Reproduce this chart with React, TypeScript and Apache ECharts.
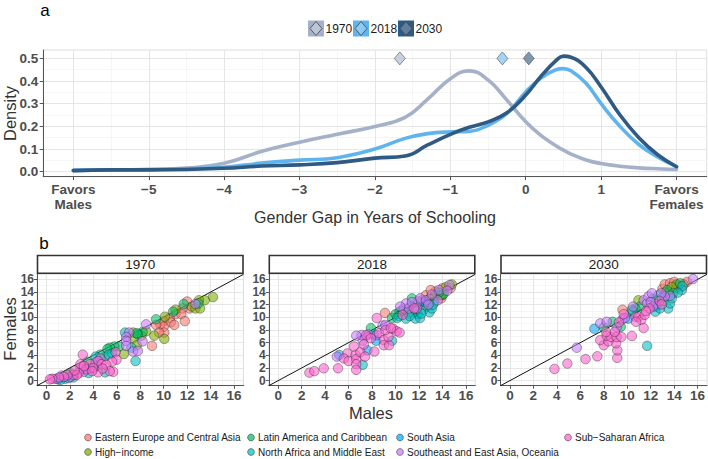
import React, { useEffect, useRef } from "react";
import * as echarts from "echarts";

// ---------- DATA ----------
const gapX = [-6, -5.5, -5, -4.5, -4, -3.5, -3, -2.5, -2, -1.6, -1.3, -1, -0.75, -0.5, -0.25, 0, 0.2, 0.4, 0.5, 0.6, 0.8, 1, 1.25, 1.5, 1.75, 2];
const dens1970 = [0.006, 0.008, 0.01, 0.016, 0.037, 0.09, 0.13, 0.165, 0.2, 0.24, 0.32, 0.41, 0.445, 0.405, 0.316, 0.22, 0.16, 0.115, 0.095, 0.078, 0.052, 0.036, 0.024, 0.017, 0.013, 0.01];
const dens2018 = [0.006, 0.008, 0.01, 0.013, 0.02, 0.038, 0.051, 0.062, 0.1, 0.147, 0.168, 0.176, 0.178, 0.205, 0.257, 0.352, 0.413, 0.45, 0.455, 0.445, 0.39, 0.3, 0.2, 0.12, 0.065, 0.022];
const dens2030 = [0.005, 0.008, 0.008, 0.01, 0.015, 0.025, 0.03, 0.04, 0.06, 0.069, 0.118, 0.165, 0.196, 0.22, 0.26, 0.338, 0.42, 0.49, 0.51, 0.505, 0.46, 0.374, 0.25, 0.15, 0.075, 0.022];
const years = ["1970", "2018", "2030"];
const meanGap = [-1.67, -0.31, 0.04];
const topXTicks = [-6, -5, -4, -3, -2, -1, 0, 1, 2];
const topYTicks = [0, 0.1, 0.2, 0.3, 0.4, 0.5];
const scatterTicks = [0, 2, 4, 6, 8, 10, 12, 14, 16];
const scatterLabelsA = [0, 4, 8, 12, 16];
const scatterLabelsB = [2, 6, 10, 14];
const regions = [
  "Eastern Europe and Central Asia",
  "High\u2212income",
  "Latin America and Caribbean",
  "North Africa and Middle East",
  "South Asia",
  "Southeast and East Asia, Oceania",
  "Sub\u2212Saharan Africa",
];
// [males, females, region index]
const pts1970 = [
  [14.2, 13.2, 1], [13.5, 12.7, 1], [13.0, 12.7, 1], [12.95, 12.2, 2], [12.0, 12.5, 0], [11.7, 12.1, 2], [12.4, 11.7, 1], [12.2, 11.4, 0], [11.6, 11.4, 0], [11.0, 11.2, 1],
  [11.0, 10.5, 0], [11.5, 10.5, 0], [11.8, 9.4, 0], [10.8, 10.9, 2], [12.7, 12.1, 5], [12.7, 11.4, 1], [13.1, 11.4, 1], [10.5, 9.9, 0], [10.1, 10.1, 1], [10.0, 9.4, 0],
  [10.6, 9.2, 0], [10.9, 8.8, 0], [9.7, 8.9, 0], [10.0, 8.5, 0], [9.35, 9.7, 2], [9.35, 8.8, 0], [10.05, 7.6, 0], [9.6, 7.6, 0], [10.05, 6.6, 1], [9.2, 7.1, 1],
  [9.0, 5.5, 0], [8.5, 8.9, 5], [8.2, 7.7, 2], [8.5, 7.8, 1], [8.1, 7.1, 1], [7.8, 7.3, 2], [7.7, 7.5, 2], [7.4, 7.6, 1], [6.7, 7.6, 3], [7.05, 7.6, 5],
  [6.8, 6.9, 5], [6.8, 6.3, 5], [7.4, 6.7, 1], [8.2, 6.2, 5], [7.7, 5.6, 1], [7.25, 5.2, 3], [6.8, 5.5, 5], [7.4, 4.6, 5], [7.8, 4.7, 5], [7.6, 3.1, 3],
  [6.6, 4.2, 1], [6.2, 5.4, 2], [5.8, 5.4, 2], [5.4, 5.2, 2], [5.2, 5.0, 2], [5.6, 4.3, 3], [5.9, 4.5, 6], [5.3, 4.1, 3], [5.98, 3.3, 6], [5.6, 3.0, 6],
  [5.0, 3.8, 2], [4.6, 4.1, 2], [4.2, 3.8, 3], [4.4, 3.1, 6], [4.2, 2.9, 5], [4.7, 2.6, 6], [5.1, 2.5, 6], [5.7, 1.4, 6], [5.4, 1.5, 6], [5.0, 1.3, 3],
  [4.4, 1.3, 6], [3.7, 2.6, 6], [3.5, 3.0, 2], [3.7, 1.9, 5], [3.1, 4.1, 6], [2.9, 2.6, 6], [3.4, 1.8, 6], [3.2, 1.4, 5], [3.6, 1.2, 3], [2.75, 1.2, 6],
  [2.3, 0.9, 6], [2.05, 1.2, 2], [1.8, 0.9, 6], [1.5, 0.6, 6], [1.07, 0.5, 6], [0.8, 0.3, 5], [0.5, 0.3, 6], [1.6, 0.3, 3], [2.05, 0.6, 5], [2.6, 0.9, 6],
  [1.2, 0.1, 3], [1.3, 0.8, 5], [2.4, 1.6, 6], [2.9, 1.9, 5], [3.2, 2.3, 6], [0.3, 0.2, 6], [1.9, 0.4, 4], [2.3, 0.5, 3], [1.0, 0.2, 4], [4.0, 2.0, 6],
  [4.8, 1.9, 6], [3.9, 1.5, 6], [4.6, 3.5, 5], [4.3, 2.3, 3],
];
const pts2018 = [
  [2.66, 1.26, 6], [3.08, 1.5, 6], [3.88, 1.95, 6], [5.1, 1.95, 6], [5.0, 3.8, 5], [5.2, 4.05, 4], [5.9, 4.3, 6], [5.6, 3.5, 6], [6.0, 3.1, 6], [6.6, 4.05, 6],
  [6.65, 3.4, 6], [6.65, 2.6, 6], [6.65, 1.7, 6], [7.2, 2.5, 3], [6.45, 5.4, 6], [7.0, 4.5, 6], [7.4, 3.8, 6], [7.6, 4.8, 4], [8.2, 4.6, 6], [7.3, 5.7, 6],
  [7.2, 6.3, 5], [7.1, 7.2, 5], [6.65, 7.1, 5], [7.5, 7.2, 6], [7.9, 8.3, 2], [7.7, 7.3, 5], [7.9, 6.7, 6], [8.15, 7.3, 3], [8.4, 7.2, 5], [8.35, 6.3, 4],
  [8.6, 7.5, 6], [9.0, 6.4, 6], [9.0, 5.6, 6], [9.45, 5.6, 6], [9.7, 6.3, 3], [9.4, 6.9, 6], [9.15, 8.0, 6], [9.8, 8.2, 6], [10.1, 7.8, 6], [10.35, 7.6, 6],
  [9.6, 8.3, 6], [8.9, 8.7, 5], [9.15, 8.8, 5], [8.4, 9.9, 6], [9.1, 10.7, 0], [9.7, 9.9, 2], [10.15, 9.9, 3], [10.0, 10.5, 2], [10.35, 10.9, 2], [10.7, 11.4, 5],
  [10.6, 10.4, 6], [10.9, 9.8, 3], [11.1, 10.6, 2], [11.3, 11.8, 2], [11.7, 10.9, 3], [11.7, 9.8, 3], [11.9, 10.5, 2], [11.15, 11.4, 5], [11.4, 13.0, 2], [11.9, 12.5, 5],
  [12.1, 13.0, 5], [12.3, 11.9, 0], [12.4, 11.2, 3], [12.7, 11.7, 1], [12.9, 10.8, 3], [13.1, 11.4, 3], [12.6, 12.7, 5], [13.0, 13.1, 0], [13.3, 12.4, 2], [13.4, 13.5, 1],
  [13.6, 12.7, 5], [13.9, 13.0, 0], [13.7, 14.3, 5], [14.0, 14.6, 0], [14.3, 14.8, 1], [14.6, 15.1, 5], [14.8, 15.2, 1], [14.1, 13.7, 2], [14.0, 13.5, 1], [14.4, 14.2, 5],
  [13.4, 14.1, 0], [13.1, 13.6, 5], [12.3, 12.7, 0], [11.6, 11.4, 6], [10.6, 11.1, 2], [12.1, 9.9, 3], [10.9, 12.2, 5], [10.4, 11.7, 5], [11.4, 12.4, 5], [14.7, 14.6, 0],
  [13.85, 13.5, 1], [12.6, 13.5, 0], [13.0, 14.3, 0], [12.0, 12.2, 2], [12.8, 12.0, 5], [13.2, 12.0, 3], [12.5, 12.4, 4], [11.2, 10.2, 3], [10.3, 10.2, 2], [13.7, 13.9, 2],
  [12.9, 12.9, 1], [11.8, 11.4, 5], [12.2, 10.6, 3],
];
const pts2030 = [
  [3.8, 1.85, 6], [4.9, 2.7, 6], [6.45, 3.4, 6], [7.45, 3.85, 6], [5.7, 5.2, 5], [9.15, 3.6, 6], [9.15, 4.8, 6], [9.05, 5.9, 6], [8.0, 5.6, 6], [7.7, 6.4, 6],
  [8.4, 6.2, 6], [8.25, 7.1, 6], [8.6, 6.9, 6], [9.1, 6.9, 6], [9.5, 6.9, 6], [8.2, 7.7, 6], [8.95, 7.7, 6], [10.4, 7.05, 6], [11.7, 5.5, 3], [7.2, 8.2, 4],
  [7.7, 9.05, 5], [8.25, 9.3, 5], [8.0, 8.4, 2], [8.75, 9.3, 2], [9.1, 8.4, 5], [9.45, 8.5, 2], [9.3, 9.2, 6], [9.6, 9.7, 5], [9.8, 9.9, 5], [10.1, 9.8, 4],
  [9.6, 11.2, 0], [9.7, 10.5, 6], [10.5, 10.9, 3], [10.7, 10.1, 6], [10.95, 10.1, 6], [11.2, 9.6, 6], [11.4, 8.3, 6], [10.75, 9.3, 6], [11.5, 10.4, 6], [10.95, 12.7, 1],
  [11.1, 11.7, 2], [10.7, 11.4, 2], [11.4, 12.7, 5], [11.7, 12.2, 5], [11.8, 13.3, 5], [12.1, 13.8, 5], [12.2, 12.9, 2], [12.4, 12.05, 5], [12.5, 11.7, 3], [12.75, 12.6, 6],
  [12.95, 12.05, 6], [12.65, 13.5, 3], [13.0, 14.5, 0], [13.4, 14.3, 2], [13.5, 13.9, 1], [13.65, 13.4, 5], [13.5, 11.4, 3], [13.65, 12.2, 3], [13.8, 13.0, 3], [13.2, 15.2, 0],
  [13.65, 15.4, 0], [14.0, 15.6, 0], [14.2, 15.2, 1], [14.5, 15.4, 2], [14.65, 14.3, 3], [14.7, 14.9, 3], [14.2, 14.6, 0], [13.9, 13.8, 2], [15.6, 16.05, 5], [15.1, 15.6, 0],
  [13.2, 13.3, 5], [12.95, 13.1, 3], [12.2, 11.7, 5], [11.9, 11.4, 6], [12.4, 10.9, 3], [12.8, 11.4, 3], [10.5, 11.7, 5], [10.4, 11.2, 2], [13.3, 14.0, 0], [14.4, 15.0, 0],
  [12.9, 13.8, 5], [13.1, 12.6, 2], [14.3, 13.9, 3], [11.6, 11.0, 6], [12.0, 12.4, 5], [14.8, 15.2, 0], [13.8, 14.8, 1],
];
const scatterYears = [pts1970, pts2018, pts2030];

// ---------- STYLE ----------
const FONT = '"Liberation Sans", Arial, Helvetica, sans-serif';
const lineColors = ["#a4b1c9", "#60b4ee", "#2f5a84"];
const diamondFill = ["#bcc6d7", "#8ccaf4", "#5f7e9f"];
const regionColors = ["#F8766D", "#7CAE00", "#00BE67", "#00BFC4", "#00A9FF", "#C77CFF", "#FF61CC"];
const TICK_COLOR = "#4d4d4d";

function rgba(hex: string, a: number) {
  const n = parseInt(hex.slice(1), 16);
  return `rgba(${(n >> 16) & 255},${(n >> 8) & 255},${n & 255},${a})`;
}

function fmtGap(v: number) {
  if (v <= -6) return "Favors\nMales";
  if (v >= 2) return "Favors\nFemales";
  if (v < 0) return "\u2212" + Math.abs(v);
  return String(v);
}

function gridLineSeries(xIdx: number, yIdx: number, xMajor: number[], xMinor: number[], yMajor: number[], yMinor: number[], anchor: number[]) {
  const major = { color: "#e0e0e0", width: 0.8, type: "solid" };
  const minor = { color: "#f0f0f0", width: 0.6, type: "solid" };
  return {
    type: "line",
    xAxisIndex: xIdx,
    yAxisIndex: yIdx,
    data: [anchor],
    symbol: "none",
    silent: true,
    z: 0,
    lineStyle: { opacity: 0 },
    markLine: {
      silent: true,
      z: 0,
      zlevel: 0,
      symbol: ["none", "none"],
      label: { show: false },
      emphasis: { disabled: true },
      animation: false,
      data: [
        ...xMinor.map((v) => ({ xAxis: v, lineStyle: minor })),
        ...yMinor.map((v) => ({ yAxis: v, lineStyle: minor })),
        ...xMajor.map((v) => ({ xAxis: v, lineStyle: major })),
        ...yMajor.map((v) => ({ yAxis: v, lineStyle: major })),
      ],
    },
  };
}

const TOP = { left: 43.2, top: 50, width: 663.5, height: 126.7 };
const PANEL_LEFTS = [37, 268.8, 500.5];
const PANEL_W = 206.5;
const PANEL_TOP = 274.3;
const PANEL_H = 111.4;

function buildOption() {
  const grids: any[] = [
    { ...TOP, show: true, borderColor: "#d6d6d6", borderWidth: 0.8, outerBoundsMode: "none", containLabel: false },
  ];
  const xAxes: any[] = [
    {
      gridIndex: 0, type: "value", min: -6.4, max: 2.4,
      axisLine: { show: true, onZero: false, lineStyle: { color: "#555", width: 1 } },
      axisTick: { show: true, customValues: topXTicks, length: 3.5, lineStyle: { color: "#555" } },
      axisLabel: { customValues: topXTicks, formatter: fmtGap, color: TICK_COLOR, fontWeight: "bold", fontSize: 13.5, fontFamily: FONT, margin: 5, lineHeight: 15, showMinLabel: true, showMaxLabel: true },
      splitLine: { show: false },
    },
  ];
  const yAxes: any[] = [
    {
      gridIndex: 0, type: "value", min: -0.022, max: 0.537,
      axisLine: { show: true, onZero: false, lineStyle: { color: "#555", width: 1 } },
      axisTick: { show: true, customValues: topYTicks, length: 3.5, lineStyle: { color: "#555" } },
      axisLabel: { customValues: topYTicks, formatter: (v: number) => v.toFixed(1), color: TICK_COLOR, fontWeight: "bold", fontSize: 13.5, fontFamily: FONT, margin: 5, showMinLabel: true, showMaxLabel: true },
      splitLine: { show: false },
    },
  ];
  const series: any[] = [];
  series.push(
    gridLineSeries(
      0, 0,
      topXTicks,
      [-5.5, -4.5, -3.5, -2.5, -1.5, -0.5, 0.5, 1.5],
      topYTicks,
      [0.05, 0.15, 0.25, 0.35, 0.45],
      [-6, 0]
    )
  );
  const dens = [dens1970, dens2018, dens2030];
  dens.forEach((d, i) => {
    series.push({
      type: "line",
      name: years[i],
      xAxisIndex: 0,
      yAxisIndex: 0,
      data: gapX.map((x, k) => [x, d[k]]),
      smooth: 0.45,
      symbol: "none",
      z: 3 + i,
      lineStyle: { color: lineColors[i], width: 3.6, cap: "round", join: "round" },
    });
  });
  meanGap.forEach((m, i) => {
    series.push({
      type: "scatter",
      xAxisIndex: 0,
      yAxisIndex: 0,
      data: [[m, 0.5]],
      symbol: "diamond",
      symbolSize: [11, 13],
      z: 6,
      itemStyle: { color: diamondFill[i], borderColor: "#555", borderWidth: 0.8 },
    });
  });

  const minorTicks = [1, 3, 5, 7, 9, 11, 13, 15];
  const yLabelBase = { color: TICK_COLOR, fontWeight: "bold", fontSize: 12, fontFamily: FONT, margin: 3, lineHeight: 11, showMinLabel: true, showMaxLabel: true };
  PANEL_LEFTS.forEach((left, p) => {
    const gi = p + 1;
    const yi = yAxes.length;
    grids.push({ left, top: PANEL_TOP, width: PANEL_W, height: PANEL_H, show: true, borderColor: "#d6d6d6", borderWidth: 0.8, outerBoundsMode: "none", containLabel: false });
    xAxes.push({
      gridIndex: gi, type: "value", min: -0.8, max: 16.8,
      axisLine: { show: true, onZero: false, lineStyle: { color: "#555", width: 1 } },
      axisTick: { show: true, customValues: scatterTicks, length: 3, lineStyle: { color: "#555" } },
      axisLabel: { customValues: scatterTicks, color: TICK_COLOR, fontWeight: "bold", fontSize: 13.5, fontFamily: FONT, margin: 3, showMinLabel: true, showMaxLabel: true },
      splitLine: { show: false },
    });
    // main y axis: line, all ticks, every other label
    yAxes.push({
      gridIndex: gi, type: "value", min: -0.8, max: 16.8, position: "left",
      axisLine: { show: true, onZero: false, lineStyle: { color: "#555", width: 1 } },
      axisTick: { show: true, customValues: scatterTicks, length: 3, lineStyle: { color: "#555" } },
      axisLabel: { ...yLabelBase, customValues: scatterLabelsA },
      splitLine: { show: false },
    });
    // companion y axis carrying the remaining labels
    yAxes.push({
      gridIndex: gi, type: "value", min: -0.8, max: 16.8, position: "left", offset: 0,
      axisLine: { show: false, onZero: false },
      axisTick: { show: false },
      axisLabel: { ...yLabelBase, customValues: scatterLabelsB },
      splitLine: { show: false },
    });
    series.push(gridLineSeries(gi, yi, scatterTicks, minorTicks, scatterTicks, minorTicks, [0, 0]));
    series.push({
      type: "line",
      xAxisIndex: gi,
      yAxisIndex: yi,
      data: [[-0.8, -0.8], [16.8, 16.8]],
      symbol: "none",
      silent: true,
      z: 2,
      lineStyle: { color: "#111", width: 1 },
    });
    regions.forEach((_, r) => {
      series.push({
        type: "scatter",
        xAxisIndex: gi,
        yAxisIndex: yi,
        data: scatterYears[p].filter((d) => d[2] === r).map((d) => [d[0], d[1]]),
        symbol: "circle",
        symbolSize: 9.5,
        z: 4,
        itemStyle: { color: rgba(regionColors[r], 0.72), borderColor: "rgba(30,30,30,0.8)", borderWidth: 0.6 },
      });
    });
  });

  const graphic: any[] = [];
  const txt = (text: string, x: number, y: number, size: number, extra: any = {}) => ({
    type: "text", x, y, silent: true, ...extra,
    style: { text, fontSize: size, fontFamily: FONT, fill: extra.fill || "#1a1a1a", align: extra.align || "center", verticalAlign: "middle", fontWeight: extra.fontWeight || "normal" },
  });
  graphic.push(txt("a", 45, 10, 17, { fill: "#000" }));
  graphic.push(txt("b", 44, 243, 17, { fill: "#000" }));
  graphic.push(txt("Density", 10, 113.5, 16.5, { rotation: Math.PI / 2, fill: "#333" }));
  graphic.push(txt("Gender Gap in Years of Schooling", 375, 217.5, 16, { fill: "#333" }));
  graphic.push(txt("Females", 10, 329, 16.5, { rotation: Math.PI / 2, fill: "#333" }));
  graphic.push(txt("Males", 371, 413, 16.5, { fill: "#333" }));

  // top legend
  const keyX = [308, 353, 398];
  years.forEach((y, i) => {
    const kx = keyX[i];
    const cy = 28.5;
    graphic.push({ type: "rect", silent: true, shape: { x: kx, y: cy - 8, width: 16, height: 16 }, style: { fill: lineColors[i] } });
    graphic.push({
      type: "polygon", silent: true,
      shape: { points: [[kx + 8, cy - 7], [kx + 14, cy], [kx + 8, cy + 7], [kx + 2, cy]] },
      style: { fill: diamondFill[i], stroke: "#444", lineWidth: 0.8 },
    });
    graphic.push(txt(y, kx + 17.5, cy, 12, { align: "left" }));
  });

  // strips
  PANEL_LEFTS.forEach((left, p) => {
    graphic.push({ type: "rect", silent: true, shape: { x: left + 0.5, y: 255.5, width: PANEL_W - 1, height: 17.8 }, style: { fill: "#fff", stroke: "#333", lineWidth: 1.6 } });
    graphic.push(txt(years[p], left + PANEL_W / 2, 264.5, 13.5));
  });

  // bottom legend (column-major 4 x 2)
  const colX = [88, 251, 400, 568];
  const rowY = [437.5, 452];
  regions.forEach((name, r) => {
    const c = Math.floor(r / 2);
    const row = r % 2;
    const cx = colX[c];
    const cy = rowY[row];
    graphic.push({ type: "circle", silent: true, shape: { cx, cy, r: 3.4 }, style: { fill: rgba(regionColors[r], 0.72), stroke: "rgba(30,30,30,0.8)", lineWidth: 0.6 } });
    graphic.push(txt(name, cx + 7, cy, 10, { align: "left" }));
  });

  return {
    animation: false,
    backgroundColor: "#ffffff",
    textStyle: { fontFamily: FONT },
    grid: grids,
    xAxis: xAxes,
    yAxis: yAxes,
    series,
    graphic,
  };
}

export default function App() {
  const ref = useRef<HTMLDivElement>(null);
  useEffect(() => {
    const chart = echarts.init(ref.current as HTMLDivElement, null, { renderer: "svg" });
    chart.setOption(buildOption() as any);
    return () => chart.dispose();
  }, []);
  return <div ref={ref} style={{ position: "fixed", left: 0, top: 0, width: 708, height: 459 }} />;
}
